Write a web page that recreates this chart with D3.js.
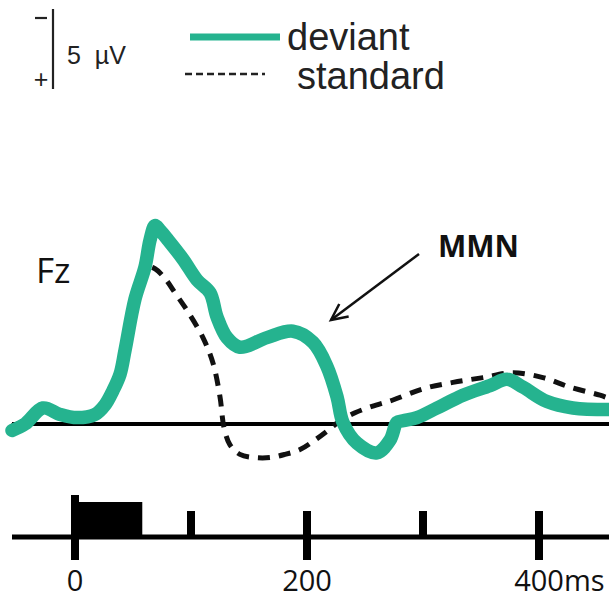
<!DOCTYPE html>
<html>
<head>
<meta charset="utf-8">
<script src="https://cdn.jsdelivr.net/npm/d3@7"></script>
<style>
  html, body { margin: 0; padding: 0; background: #fff; }
  svg { display: block; }
</style>
</head>
<body>
<svg id="chart" width="609" height="601"></svg>
<script>
// ---- Data (time in ms, amplitude in µV; negative plotted upward) ----
const deviantTimes = [-54.3,-43.1,-27.6,-12.9,1.7,17.2,25.9,32.8,38.8,43.1,51.7,60.3,64.7,69.0,73.3,80.2,93.1,105.2,116.4,122.4,131.0,142.2,165.5,187.9,205.2,217.2,225.9,231.0,243.1,260.3,271.6,277.6,282.8,294.8,312.1,334.5,357.8,372.4,386.2,406.9,429.3,460.0];
const deviantValues = [0.4,0.0,-1.0,-0.6,-0.4,-0.6,-1.2,-2.1,-3.1,-4.6,-7.8,-9.8,-11.5,-12.4,-12.1,-11.5,-10.3,-9.0,-8.2,-6.7,-5.4,-4.8,-5.4,-5.8,-5.1,-3.6,-1.7,-0.1,1.2,1.8,1.0,-0.1,-0.2,-0.4,-1.0,-1.8,-2.4,-2.8,-2.3,-1.4,-1.0,-0.9];

const standardTimes = [-54.3,-38.8,-25.9,-12.9,1.7,17.2,25.9,32.8,38.8,43.1,51.7,58.0,63.5,69.0,77.6,86.2,96.6,110.3,119.0,125.0,128.4,133.6,142.2,155.2,168.1,181.0,194.0,206.9,218.1,228.4,241.4,256.0,274.1,300.0,325.9,351.7,377.6,403.4,426.7,452.6,460.3];
const standardValues = [0.1,-0.3,-0.8,-0.4,-0.3,-0.6,-1.1,-2.0,-3.0,-4.4,-7.3,-9.0,-9.8,-9.7,-9.1,-8.2,-7.1,-5.4,-3.8,-1.7,0.2,1.3,1.9,2.1,2.1,1.9,1.6,1.0,0.4,-0.2,-0.7,-1.1,-1.5,-2.2,-2.6,-2.9,-3.2,-2.9,-2.3,-1.8,-1.6];

const majorTicks = [0, 200, 400];
const majorTickLabels = ["0", "200", "400"];
const timeUnit = "ms";
const minorTicks = [100, 300];
const stimulus = [0, 58];        // stimulus bar, ms
const scaleBarUV = 5;            // calibration bar, µV
const seriesNames = ["deviant", "standard"];
const channelLabel = "Fz";
const annotation = "MMN";

// ---- Scales ----
const x = d3.scaleLinear().domain([0, 400]).range([75, 539]);
const y = d3.scaleLinear().domain([0, -5]).range([424, 344]);
const green = "#25b38f";
const legendFont = "Liberation Sans, Arial, sans-serif";

const svg = d3.select("#chart");

// ---- Legend ----
const leg = svg.append("g");
const barTop = 9, barLen = y(0) - y(-scaleBarUV);
leg.append("line").attr("x1", 53).attr("x2", 53).attr("y1", barTop).attr("y2", barTop + barLen)
  .attr("stroke", "#222").attr("stroke-width", 2.2);
leg.append("line").attr("x1", 35).attr("x2", 47).attr("y1", 18).attr("y2", 18)
  .attr("stroke", "#222").attr("stroke-width", 2.2);
leg.append("text").attr("x", 41).attr("y", 88).attr("text-anchor", "middle")
  .attr("font-family", legendFont).attr("font-size", 25).attr("fill", "#222").text("+");
leg.append("text").attr("x", 67).attr("y", 64)
  .attr("font-family", legendFont).attr("font-size", 25).attr("fill", "#222")
  .attr("xml:space", "preserve").text(scaleBarUV + "  µV");
leg.append("line").attr("x1", 190).attr("x2", 280).attr("y1", 37).attr("y2", 37)
  .attr("stroke", green).attr("stroke-width", 7);
leg.append("text").attr("x", 287).attr("y", 50)
  .attr("font-family", legendFont).attr("font-size", 38).attr("fill", "#222").text(seriesNames[0]);
leg.append("line").attr("x1", 185).attr("x2", 265).attr("y1", 74).attr("y2", 74)
  .attr("stroke", "#222").attr("stroke-width", 2.5).attr("stroke-dasharray", "7,4");
leg.append("text").attr("x", 297).attr("y", 89)
  .attr("font-family", legendFont).attr("font-size", 38).attr("fill", "#222").text(seriesNames[1]);

// ---- ERP baseline ----
svg.append("line").attr("x1", 12).attr("x2", 609).attr("y1", y(0)).attr("y2", y(0))
  .attr("stroke", "#000").attr("stroke-width", 4);

// ---- Curves ----
const line = d3.line().x(d => x(d[0])).y(d => y(d[1])).curve(d3.curveCatmullRom.alpha(0.5));
const stdData = standardTimes.map((t, i) => [t, standardValues[i]]);
const devData = deviantTimes.map((t, i) => [t, deviantValues[i]]);

svg.append("path").attr("d", line(stdData)).attr("fill", "none")
  .attr("stroke", "#111").attr("stroke-width", 5).attr("stroke-dasharray", "12,9");
svg.append("path").attr("d", line(devData)).attr("fill", "none")
  .attr("stroke", green).attr("stroke-width", 13.5).attr("stroke-linejoin", "round").attr("stroke-linecap", "round");

// ---- Labels ----
svg.append("text").attr("x", 36).attr("y", 283)
  .attr("font-family", "Open Sans, sans-serif").attr("font-size", 35).attr("fill", "#111").text(channelLabel);
svg.append("text").attr("x", 438).attr("y", 257)
  .attr("font-family", "Open Sans, sans-serif").attr("font-weight", 700).attr("font-size", 30).attr("fill", "#111").text(annotation);

// arrow
const ax1 = 419, ay1 = 254, ax2 = 331, ay2 = 320;
svg.append("line").attr("x1", ax1).attr("y1", ay1).attr("x2", ax2).attr("y2", ay2)
  .attr("stroke", "#111").attr("stroke-width", 2.5);
const ang = Math.atan2(ay2 - ay1, ax2 - ax1);
const hl = 18, spread = 0.45;
svg.append("path")
  .attr("d", `M${ax2 - hl*Math.cos(ang - spread)},${ay2 - hl*Math.sin(ang - spread)} L${ax2},${ay2} L${ax2 - hl*Math.cos(ang + spread)},${ay2 - hl*Math.sin(ang + spread)}`)
  .attr("fill", "none").attr("stroke", "#111").attr("stroke-width", 2.5);

// ---- Time axis ----
const axY = 537;
const tg = svg.append("g");
tg.append("line").attr("x1", 12).attr("x2", 609).attr("y1", axY).attr("y2", axY)
  .attr("stroke", "#000").attr("stroke-width", 5);
tg.append("rect").attr("x", x(stimulus[0])).attr("y", 502)
  .attr("width", x(stimulus[1]) - x(stimulus[0])).attr("height", axY - 502).attr("fill", "#000");
tg.selectAll(".maj").data(majorTicks).join("rect")
  .attr("x", d => x(d) - 4).attr("width", 8)
  .attr("y", d => d === 0 ? 495 : 511).attr("height", d => (d === 0 ? 560 - 495 : 560 - 511))
  .attr("fill", "#000");
tg.selectAll(".min").data(minorTicks).join("rect")
  .attr("x", d => x(d) - 4).attr("width", 8)
  .attr("y", 511).attr("height", axY - 511).attr("fill", "#000");
const lbls = tg.selectAll(".lbl").data(majorTicks).join("text")
  .attr("x", d => x(d)).attr("y", 591)
  .attr("font-family", "Open Sans, sans-serif").attr("font-size", 29).attr("fill", "#111")
  .text((d, i) => majorTickLabels[i]);
// center the number on its tick, then append the unit after the last one
lbls.each(function(d, i) {
  const w = this.getComputedTextLength();
  d3.select(this).attr("x", x(d) - w / 2);
  if (i === majorTicks.length - 1) d3.select(this).append("tspan").text(timeUnit);
});
</script>
</body>
</html>
